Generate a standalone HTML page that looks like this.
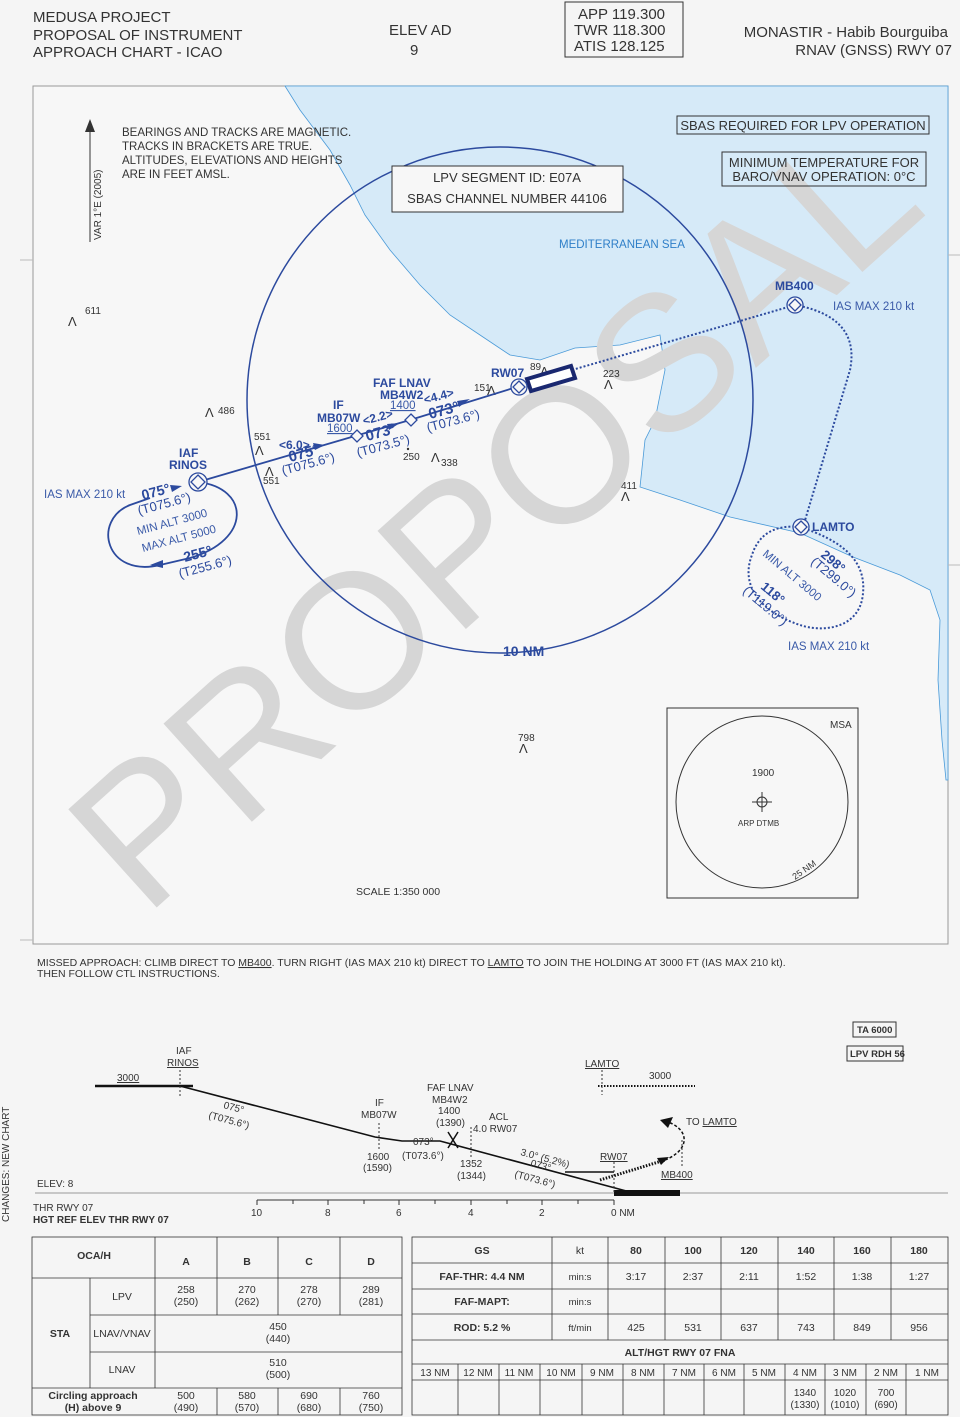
<!DOCTYPE html>
<html><head><meta charset="utf-8"><style>
html,body{margin:0;padding:0;background:#f5f5f5;}
svg{display:block;font-family:"Liberation Sans",sans-serif;}
</style></head><body>
<svg width="960" height="1417" viewBox="0 0 960 1417" xmlns="http://www.w3.org/2000/svg">
<rect width="960" height="1417" fill="#f5f5f5"/>
<!-- header -->
<g fill="#333" font-size="15">
<text x="33" y="22">MEDUSA  PROJECT</text>
<text x="33" y="40">PROPOSAL  OF  INSTRUMENT</text>
<text x="33" y="57">APPROACH  CHART  -  ICAO</text>
<text x="389" y="35">ELEV  AD</text>
<text x="410" y="55">9</text>
<text x="578" y="19">APP  119.300</text>
<text x="574" y="35">TWR  118.300</text>
<text x="574" y="51">ATIS  128.125</text>
<text x="948" y="37" text-anchor="end">MONASTIR  -  Habib  Bourguiba</text>
<text x="952" y="55" text-anchor="end">RNAV  (GNSS)  RWY  07</text>
</g>
<rect x="565" y="2" width="118" height="55" fill="none" stroke="#333"/>
<!-- map -->
<rect x="33" y="86" width="915" height="858" fill="#f7f7f7" stroke="#999"/>
<polygon fill="#d6eaf8" stroke="#4a9ad8" stroke-width="0.8" points="285,86 300,110 330,150 350,185 365,215 390,250 420,285 450,315 480,335 510,355 540,360 575,348 620,345 660,335 665,370 655,420 645,440 640,487 680,500 730,517 800,533 853,557 900,575 930,590 940,620 938,680 942,740 946,780 948,780 948,86"/>
<!-- side ticks -->
<g stroke="#bbb"><line x1="20" y1="260" x2="33" y2="260"/><line x1="20" y1="940" x2="33" y2="940"/><line x1="948" y1="255" x2="960" y2="255"/><line x1="948" y1="565" x2="960" y2="565"/></g>
<!-- watermark -->
<text x="0" y="0" transform="translate(145,918) rotate(-42)" font-size="192" fill="#d6d6d6">PROPOSAL</text>
<!-- 10NM circle -->
<circle cx="500" cy="400" r="253" fill="none" stroke="#2c4a9e" stroke-width="1.5"/>
<text x="503" y="656" fill="#2c4a9e" font-size="14" font-weight="bold">10 NM</text>
<!-- north arrow -->
<line x1="90" y1="242" x2="90" y2="124" stroke="#333"/><polygon points="90,119 85,132 95,132" fill="#333"/>
<text transform="translate(101,240) rotate(-90)" font-size="10" fill="#333">VAR 1°E (2005)</text>
<g font-size="11.5" fill="#333">
<text x="122" y="136">BEARINGS  AND  TRACKS ARE  MAGNETIC.</text>
<text x="122" y="150">TRACKS  IN  BRACKETS ARE  TRUE.</text>
<text x="122" y="164">ALTITUDES, ELEVATIONS  AND  HEIGHTS</text>
<text x="122" y="178">ARE  IN  FEET AMSL.</text>
</g>
<rect x="392" y="166" width="231" height="46" fill="#f7f7f7" stroke="#333"/>
<text x="507" y="182" text-anchor="middle" font-size="13" fill="#333">LPV  SEGMENT  ID:  E07A</text>
<text x="507" y="203" text-anchor="middle" font-size="13" fill="#333">SBAS  CHANNEL  NUMBER  44106</text>
<rect x="677" y="116" width="252" height="18" fill="none" stroke="#333"/>
<text x="803" y="130" text-anchor="middle" font-size="13" fill="#333">SBAS  REQUIRED  FOR  LPV  OPERATION</text>
<rect x="722" y="152" width="204" height="34" fill="none" stroke="#333"/>
<text x="824" y="167" text-anchor="middle" font-size="13" fill="#333">MINIMUM  TEMPERATURE  FOR</text>
<text x="824" y="181" text-anchor="middle" font-size="13" fill="#333">BARO/VNAV  OPERATION: 0°C</text>
<text x="559" y="248" font-size="11.5" fill="#2f7fc8">MEDITERRANEAN  SEA</text>
<!-- spot heights -->
<g font-size="10" fill="#333">
<text x="68" y="326" font-size="13">Λ</text><text x="85" y="314">611</text>
<text x="205" y="417" font-size="13">Λ</text><text x="218" y="414">486</text>
<text x="254" y="440">551</text><text x="255" y="455" font-size="13">Λ</text>
<text x="265" y="476" font-size="13">Λ</text><text x="263" y="484">551</text>
<text x="474" y="391">151</text><text x="487" y="395" font-size="13">Λ</text>
<text x="530" y="370">89</text><text x="540" y="376" font-size="13">Λ</text>
<text x="603" y="377">223</text><text x="604" y="389" font-size="13">Λ</text>
<circle cx="408" cy="449" r="1.2" fill="#333"/><text x="403" y="460">250</text>
<text x="431" y="462" font-size="13">Λ</text><text x="441" y="466">338</text>
<text x="621" y="489">411</text><text x="621" y="501" font-size="13">Λ</text>
<text x="518" y="741">798</text><text x="519" y="753" font-size="13">Λ</text>
</g>
<!-- approach track -->
<g stroke="#2c4a9e" fill="none" stroke-width="1.8">
<line x1="198" y1="482" x2="355" y2="436"/>
<line x1="355" y1="436" x2="410" y2="420"/>
<line x1="410" y1="420" x2="520" y2="386"/>
<path d="M198,482 C250,488 252,540 190,558 L160,565 C105,578 92,520 130,505 L150,498" />
</g>
<line x1="572" y1="370" x2="795" y2="305" stroke="#2c4a9e" stroke-width="2" stroke-dasharray="2,2"/>
<path d="M795,305 C850,315 855,345 850,370 L803,527" fill="none" stroke="#2c4a9e" stroke-width="2" stroke-dasharray="2,2"/>
<path d="M800,527 C840,540 870,560 862,600 C855,630 820,632 800,625 C760,612 740,585 752,555 C760,530 780,525 800,527" fill="none" stroke="#2c4a9e" stroke-width="2" stroke-dasharray="2,2"/>
<g fill="#2c4a9e">
<polygon points="325,445 313,443 315,450"/>
<polygon points="400,423 387,424 389,430"/>
<polygon points="470,399 457,401 459,407"/>
<polygon points="150,565 163,560 163,568"/>
<polygon points="182,486 170,485 172,492"/>
</g>
<!-- runway -->
<polygon points="527,379 571,366 575,378 531,391" fill="#fff" stroke="#1a2870" stroke-width="4"/>
<!-- waypoints -->
<g fill="#f7f7f7" stroke="#2c4a9e" stroke-width="1.3">
<circle cx="198" cy="482" r="9"/><polygon points="198,475 205,482 198,489 191,482"/>
<circle cx="519" cy="387" r="8"/><polygon points="519,381 525,387 519,393 513,387"/>
<circle cx="795" cy="305" r="8"/><polygon points="795,299 801,305 795,311 789,305"/>
<circle cx="801" cy="527" r="8"/><polygon points="801,521 807,527 801,533 795,527"/>
<polygon points="357,430 363,436 357,442 351,436"/>
<polygon points="411,414 417,420 411,426 405,420"/>
</g>
<g fill="#2c4a9e" font-weight="bold" font-size="12">
<text x="179" y="457">IAF</text><text x="169" y="469">RINOS</text>
<text x="333" y="409">IF</text><text x="317" y="422">MB07W</text>
<text x="373" y="387">FAF LNAV</text><text x="380" y="399">MB4W2</text>
<text x="491" y="377">RW07</text>
<text x="775" y="290">MB400</text>
<text x="812" y="531">LAMTO</text>
<text x="279" y="449">&lt;6.0&gt;</text><text x="290" y="462" font-size="15" transform="rotate(-15 290 462)">075°</text>
<text x="364" y="425" transform="rotate(-15 364 425)">&lt;2.2&gt;</text><text x="367" y="441" font-size="15" transform="rotate(-15 367 441)">073°</text>
<text x="425" y="404" transform="rotate(-15 425 404)">&lt;4.4&gt;</text><text x="430" y="419" font-size="15" transform="rotate(-15 430 419)">073°</text>
<text x="143" y="500" font-size="14" transform="rotate(-15 143 500)">075°</text>
<text x="185" y="562" font-size="14" transform="rotate(-15 185 562)">255°</text>
<text x="820" y="556" font-size="13" transform="rotate(40 820 556)">298°</text>
<text x="760" y="588" font-size="13" transform="rotate(40 760 588)">118°</text>
</g>
<g fill="#2c4a9e" font-size="13">
<text x="283" y="475" transform="rotate(-15 283 475)">(T075.6°)</text>
<text x="358" y="457" transform="rotate(-15 358 457)">(T073.5°)</text>
<text x="428" y="432" transform="rotate(-15 428 432)">(T073.6°)</text>
<text x="139" y="515" transform="rotate(-15 139 515)">(T075.6°)</text>
<text x="180" y="578" transform="rotate(-15 180 578)">(T255.6°)</text>
<text x="810" y="563" transform="rotate(40 810 563)">(T299.0°)</text>
<text x="742" y="592" transform="rotate(40 742 592)">(T119.0°)</text>
</g>
<g fill="#3a5aa8" font-size="11.5">
<text x="44" y="498">IAS  MAX  210  kt</text>
<text x="138" y="535" transform="rotate(-15 138 535)">MIN  ALT  3000</text>
<text x="143" y="552" transform="rotate(-15 143 552)">MAX  ALT  5000</text>
<text x="833" y="310">IAS  MAX  210  kt</text>
<text x="788" y="650">IAS  MAX  210  kt</text>
<text x="762" y="555" transform="rotate(40 762 555)">MIN  ALT  3000</text>
<text x="327" y="432" text-decoration="underline">1600</text>
<text x="390" y="409" text-decoration="underline">1400</text>
</g>
<!-- MSA -->
<rect x="667" y="708" width="191" height="190" fill="#f7f7f7" stroke="#333"/>
<circle cx="762" cy="802" r="86" fill="none" stroke="#333"/>
<text x="830" y="728" font-size="10" fill="#333">MSA</text>
<text x="752" y="776" font-size="10" fill="#333">1900</text>
<circle cx="762" cy="802" r="5" fill="none" stroke="#333"/><line x1="752" y1="802" x2="772" y2="802" stroke="#333"/><line x1="762" y1="792" x2="762" y2="812" stroke="#333"/>
<text x="738" y="826" font-size="8" fill="#333">ARP  DTMB</text>
<text x="795" y="880" font-size="9" fill="#333" transform="rotate(-35 795 880)">25  NM</text>
<text x="356" y="895" font-size="10.5" fill="#333">SCALE  1:350  000</text>
<!-- missed approach text -->
<g font-size="10.5" fill="#333">
<text x="37" y="966">MISSED  APPROACH: CLIMB  DIRECT  TO  <tspan text-decoration="underline">MB400</tspan>. TURN  RIGHT  (IAS  MAX  210  kt)  DIRECT  TO  <tspan text-decoration="underline">LAMTO</tspan>  TO  JOIN  THE  HOLDING  AT  3000  FT  (IAS  MAX  210  kt).</text>
<text x="37" y="977">THEN  FOLLOW  CTL  INSTRUCTIONS.</text>
</g>
<!-- profile -->
<text transform="translate(9,1222) rotate(-90)" font-size="10" fill="#333">CHANGES: NEW  CHART</text>
<rect x="853" y="1022" width="43" height="15" fill="none" stroke="#333"/><text x="857" y="1033" font-size="9.5" font-weight="bold" fill="#333">TA 6000</text>
<rect x="847" y="1046" width="56" height="15" fill="none" stroke="#333"/><text x="850" y="1057" font-size="9.5" font-weight="bold" fill="#333">LPV RDH 56</text>
<line x1="35" y1="1193" x2="948" y2="1193" stroke="#999" stroke-width="1"/>
<line x1="95" y1="1086" x2="193" y2="1086" stroke="#111" stroke-width="2.5"/>
<polyline points="180,1086 375,1137 402,1141 440,1141 630,1192" fill="none" stroke="#111" stroke-width="1.6"/>
<line x1="565" y1="1172" x2="614" y2="1172" stroke="#111" stroke-width="1.6"/>
<rect x="614" y="1190" width="66" height="6" fill="#111"/>
<line x1="598" y1="1086" x2="695" y2="1086" stroke="#111" stroke-width="2" stroke-dasharray="1.5,1.5"/>
<line x1="600" y1="1180" x2="665" y2="1160" stroke="#111" stroke-width="3" stroke-dasharray="1.5,1.5"/>
<path d="M665,1160 C690,1150 690,1130 668,1122" fill="none" stroke="#111" stroke-width="1.5" stroke-dasharray="3,2"/>
<polygon points="660,1120 673,1117 668,1128" fill="#111"/>
<polygon points="669,1157 657,1158 661,1165" fill="#111"/>
<g stroke="#333" stroke-dasharray="2,2"><line x1="180" y1="1070" x2="180" y2="1098"/><line x1="379" y1="1123" x2="379" y2="1150"/><line x1="471" y1="1127" x2="471" y2="1158"/><line x1="602" y1="1070" x2="602" y2="1095"/><line x1="614" y1="1162" x2="614" y2="1192"/><line x1="682" y1="1140" x2="682" y2="1168"/></g>
<path d="M448,1132 L458,1148 M458,1132 L448,1148" stroke="#111" stroke-width="1.5"/>
<g font-size="10" fill="#333">
<text x="117" y="1081" text-decoration="underline">3000</text>
<text x="176" y="1054">IAF</text><text x="167" y="1066" text-decoration="underline">RINOS</text>
<text x="223" y="1108" transform="rotate(15 223 1108)">075°</text><text x="208" y="1118" transform="rotate(15 208 1118)">(T075.6°)</text>
<text x="375" y="1106">IF</text><text x="361" y="1118">MB07W</text>
<text x="427" y="1091">FAF  LNAV</text><text x="432" y="1103">MB4W2</text><text x="438" y="1114">1400</text><text x="436" y="1126">(1390)</text>
<text x="489" y="1120">ACL</text><text x="473" y="1132">4.0  RW07</text>
<text x="413" y="1145">073°</text><text x="402" y="1159">(T073.6°)</text>
<text x="367" y="1160">1600</text><text x="363" y="1171">(1590)</text>
<text x="460" y="1167">1352</text><text x="457" y="1179">(1344)</text>
<text x="520" y="1155" transform="rotate(15 520 1155)">3.0°  (5.2%)</text>
<text x="530" y="1166" transform="rotate(15 530 1166)">073°</text>
<text x="514" y="1177" transform="rotate(15 514 1177)">(T073.6°)</text>
<text x="600" y="1160" text-decoration="underline">RW07</text>
<text x="661" y="1178" text-decoration="underline">MB400</text>
<text x="585" y="1067" text-decoration="underline">LAMTO</text>
<text x="649" y="1079">3000</text>
<text x="686" y="1125">TO  <tspan text-decoration="underline">LAMTO</tspan></text>
<text x="37" y="1187">ELEV: 8</text>
<text x="33" y="1211">THR  RWY  07</text>
<text x="33" y="1223" font-weight="bold">HGT REF ELEV THR RWY 07</text>
<text x="251" y="1216">10</text><text x="325" y="1216">8</text><text x="396" y="1216">6</text><text x="468" y="1216">4</text><text x="539" y="1216">2</text><text x="611" y="1216">0  NM</text>
</g>
<line x1="257" y1="1200" x2="614" y2="1200" stroke="#333"/>
<g stroke="#333"><line x1="257" y1="1200" x2="257" y2="1205"/><line x1="293" y1="1200" x2="293" y2="1204"/><line x1="328" y1="1200" x2="328" y2="1205"/><line x1="364" y1="1200" x2="364" y2="1204"/><line x1="399" y1="1200" x2="399" y2="1205"/><line x1="435" y1="1200" x2="435" y2="1204"/><line x1="471" y1="1200" x2="471" y2="1205"/><line x1="507" y1="1200" x2="507" y2="1204"/><line x1="542" y1="1200" x2="542" y2="1205"/><line x1="578" y1="1200" x2="578" y2="1204"/><line x1="614" y1="1200" x2="614" y2="1205"/></g>
<!-- left table -->
<g stroke="#333" fill="none" stroke-width="0.8">
<rect x="32" y="1237" width="370" height="178"/>
<line x1="155" y1="1237" x2="155" y2="1388"/>
<line x1="217" y1="1237" x2="217" y2="1315"/><line x1="278" y1="1237" x2="278" y2="1315"/><line x1="340" y1="1237" x2="340" y2="1315"/>
<line x1="217" y1="1388" x2="217" y2="1415"/><line x1="278" y1="1388" x2="278" y2="1415"/><line x1="340" y1="1388" x2="340" y2="1415"/>
<line x1="32" y1="1278" x2="402" y2="1278"/>
<line x1="90" y1="1315" x2="402" y2="1315"/><line x1="90" y1="1352" x2="402" y2="1352"/>
<line x1="32" y1="1388" x2="402" y2="1388"/>
<line x1="90" y1="1278" x2="90" y2="1388"/>
</g>
<g font-size="10.5" fill="#333" text-anchor="middle">
<text x="94" y="1259" font-weight="bold">OCA/H</text>
<text x="186" y="1265" font-weight="bold">A</text><text x="247" y="1265" font-weight="bold">B</text><text x="309" y="1265" font-weight="bold">C</text><text x="371" y="1265" font-weight="bold">D</text>
<text x="60" y="1337" font-weight="bold">STA</text>
<text x="122" y="1300">LPV</text><text x="122" y="1337">LNAV/VNAV</text><text x="122" y="1373">LNAV</text>
<text x="186" y="1293">258</text><text x="186" y="1305">(250)</text>
<text x="247" y="1293">270</text><text x="247" y="1305">(262)</text>
<text x="309" y="1293">278</text><text x="309" y="1305">(270)</text>
<text x="371" y="1293">289</text><text x="371" y="1305">(281)</text>
<text x="278" y="1330">450</text><text x="278" y="1342">(440)</text>
<text x="278" y="1366">510</text><text x="278" y="1378">(500)</text>
<text x="93" y="1399" font-weight="bold">Circling approach</text><text x="93" y="1411" font-weight="bold">(H) above 9</text>
<text x="186" y="1399">500</text><text x="186" y="1411">(490)</text>
<text x="247" y="1399">580</text><text x="247" y="1411">(570)</text>
<text x="309" y="1399">690</text><text x="309" y="1411">(680)</text>
<text x="371" y="1399">760</text><text x="371" y="1411">(750)</text>
</g>
<!-- right table -->
<g stroke="#333" fill="none" stroke-width="0.8">
<rect x="412" y="1237" width="536" height="178"/>
<line x1="412" y1="1263" x2="948" y2="1263"/><line x1="412" y1="1289" x2="948" y2="1289"/><line x1="412" y1="1314" x2="948" y2="1314"/><line x1="412" y1="1340" x2="948" y2="1340"/><line x1="412" y1="1364" x2="948" y2="1364"/><line x1="412" y1="1380" x2="948" y2="1380"/>
<line x1="552" y1="1237" x2="552" y2="1340"/><line x1="608" y1="1237" x2="608" y2="1340"/><line x1="665" y1="1237" x2="665" y2="1340"/><line x1="721" y1="1237" x2="721" y2="1340"/><line x1="778" y1="1237" x2="778" y2="1340"/><line x1="834" y1="1237" x2="834" y2="1340"/><line x1="891" y1="1237" x2="891" y2="1340"/>
<line x1="458" y1="1364" x2="458" y2="1415"/><line x1="499" y1="1364" x2="499" y2="1415"/><line x1="540" y1="1364" x2="540" y2="1415"/><line x1="582" y1="1364" x2="582" y2="1415"/><line x1="623" y1="1364" x2="623" y2="1415"/><line x1="664" y1="1364" x2="664" y2="1415"/><line x1="704" y1="1364" x2="704" y2="1415"/><line x1="744" y1="1364" x2="744" y2="1415"/><line x1="785" y1="1364" x2="785" y2="1415"/><line x1="825" y1="1364" x2="825" y2="1415"/><line x1="866" y1="1364" x2="866" y2="1415"/><line x1="906" y1="1364" x2="906" y2="1415"/>
</g>
<g font-size="10.5" fill="#333" text-anchor="middle">
<g font-weight="bold"><text x="482" y="1254">GS</text><text x="636" y="1254">80</text><text x="693" y="1254">100</text><text x="749" y="1254">120</text><text x="806" y="1254">140</text><text x="862" y="1254">160</text><text x="919" y="1254">180</text>
<text x="482" y="1280">FAF-THR: 4.4 NM</text><text x="482" y="1305">FAF-MAPT:</text><text x="482" y="1331">ROD: 5.2 %</text><text x="680" y="1356">ALT/HGT RWY 07 FNA</text></g>
<text x="580" y="1254">kt</text>
<text x="580" y="1280" font-size="9.5">min:s</text><text x="580" y="1305" font-size="9.5">min:s</text><text x="580" y="1331" font-size="9.5">ft/min</text>
<text x="636" y="1280">3:17</text><text x="693" y="1280">2:37</text><text x="749" y="1280">2:11</text><text x="806" y="1280">1:52</text><text x="862" y="1280">1:38</text><text x="919" y="1280">1:27</text>
<text x="636" y="1331">425</text><text x="693" y="1331">531</text><text x="749" y="1331">637</text><text x="806" y="1331">743</text><text x="862" y="1331">849</text><text x="919" y="1331">956</text>
<g font-size="10"><text x="435" y="1376">13  NM</text><text x="478" y="1376">12  NM</text><text x="519" y="1376">11  NM</text><text x="561" y="1376">10  NM</text><text x="602" y="1376">9  NM</text><text x="643" y="1376">8  NM</text><text x="684" y="1376">7  NM</text><text x="724" y="1376">6  NM</text><text x="764" y="1376">5  NM</text><text x="805" y="1376">4  NM</text><text x="845" y="1376">3  NM</text><text x="886" y="1376">2  NM</text><text x="927" y="1376">1  NM</text>
<text x="805" y="1396">1340</text><text x="805" y="1408">(1330)</text><text x="845" y="1396">1020</text><text x="845" y="1408">(1010)</text><text x="886" y="1396">700</text><text x="886" y="1408">(690)</text></g>
</g>
</svg>
</body></html>
